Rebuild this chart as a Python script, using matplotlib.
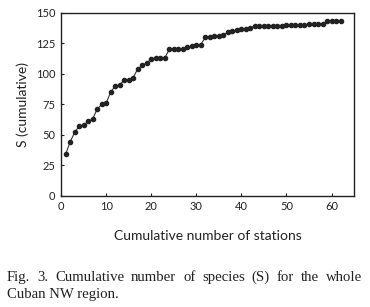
import matplotlib
matplotlib.use('Agg')
import matplotlib.pyplot as plt

stations = list(range(1, 63))
species = [34, 44, 52, 57, 58, 61, 63, 71, 75, 76,
           85, 90, 91, 95, 95, 97, 104, 107, 109, 112,
           113, 113, 113, 120, 120, 120, 120, 122, 123, 124,
           124, 130, 130, 131, 131, 132, 134, 135, 136, 137,
           137, 138, 139, 139, 139, 139, 139, 139, 139, 140,
           140, 140, 140, 140, 141, 141, 141, 141, 143, 143,
           143, 143]
xticks = [0, 10, 20, 30, 40, 50, 60]
yticks = [0, 25, 50, 75, 100, 125, 150]
caption1 = 'Fig. 3. Cumulative number of species (S) for the whole'
caption2 = 'Cuban NW region.'

plt.rcParams['font.family'] = ['Lato', 'DejaVu Sans']

fig = plt.figure(figsize=(3.7, 3.07), dpi=100)
ax = fig.add_axes([0.165, 0.362, 0.792, 0.596])

ax.plot(stations, species, color='#333333', lw=0.8, marker='o',
        markersize=3.0, markerfacecolor='#222222', markeredgecolor='#222222')

ax.set_xlim(0, 65)
ax.set_ylim(0, 150)
ax.set_xticks(xticks)
ax.set_yticks(yticks)
ax.tick_params(direction='in', length=2.5, width=0.8, labelsize=8, pad=4, colors='#222222')
for s in ax.spines.values():
    s.set_linewidth(1.0)
    s.set_color('#222222')

ax.set_xlabel('Cumulative number of stations', fontsize=10, labelpad=13, color='#222222')
ax.set_ylabel('S (cumulative)', fontsize=10, labelpad=5, color='#222222')

# justified first caption line: spread words between left and right edge
cap_kw = dict(family='Liberation Serif', fontsize=10.6, color='#222222', va='baseline')
x0, x1 = 7 / 370, 362 / 370
renderer = fig.canvas.get_renderer()
words = caption1.split()
texts = [fig.text(0, 1 - 281 / 307, w, **cap_kw) for w in words]
widths = [t.get_window_extent(renderer).width / fig.bbox.width for t in texts]
gap = (x1 - x0 - sum(widths)) / (len(words) - 1)
x = x0
for t, w in zip(texts, widths):
    t.set_x(x)
    x += w + gap

fig.text(x0, 1 - 298 / 307, caption2, **cap_kw)

fig.savefig('out.png', dpi=100)
